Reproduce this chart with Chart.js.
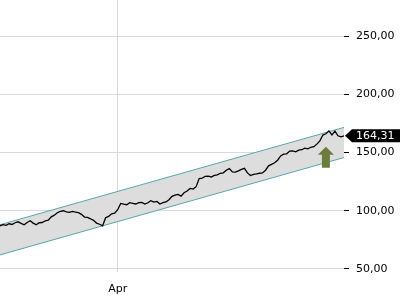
<!DOCTYPE html>
<html>
<head>
<meta charset="utf-8">
<script src="https://cdn.jsdelivr.net/npm/chart.js@4"></script>
<style>
  body { margin: 0; background: #fff; }
  #wrap { width: 400px; height: 300px; }
</style>
</head>
<body>
<div id="wrap"><canvas id="priceChart" width="400" height="300"></canvas></div>
<script>
// daily closes, one entry per trading day
const prices = [
  87.1, 88.0, 87.4, 88.8, 88.2, 89.7, 90.5, 89.2, 88.0, 89.9,
  91.4, 89.4, 88.0, 89.7, 89.9, 91.4, 92.0, 94.8, 96.2, 98.3,
  99.4, 100.0, 99.1, 98.6, 99.5, 98.9, 98.3, 96.9, 94.6, 94.3,
  93.1, 91.8, 89.4, 88.4, 87.1, 94.0, 95.2, 97.4, 97.9, 100.9,
  106.3, 105.6, 105.2, 106.9, 106.4, 105.8, 106.9, 107.2, 105.7, 106.9,
  108.6, 107.5, 108.0, 105.8, 106.9, 107.6, 109.5, 112.4, 113.5, 114.1,
  112.6, 115.5, 117.0, 119.2, 118.6, 120.7, 127.6, 128.1, 129.5, 129.8,
  129.0, 130.4, 130.8, 132.2, 132.6, 134.8, 136.2, 133.3, 133.1, 134.3,
  135.6, 136.4, 132.5, 130.2, 131.3, 131.6, 132.2, 132.5, 134.8, 138.6,
  139.9, 141.2, 143.4, 147.1, 148.6, 148.9, 151.2, 151.4, 150.6, 152.0,
  152.4, 153.7, 153.1, 154.5, 155.0, 157.2, 160.0, 165.0, 166.1, 168.6,
  165.2, 168.4, 164.4, 163.5, 164.31
];

// trend channel (start / end day)
const channelDays = [0, 114];
const channelUpper = [88.0, 171.6];
const channelLower = [62.1, 145.7];

// axis ticks
const xTickDays = [39];
const xTickLabels = ["Apr"];
const yTickValues = [50, 100, 150, 200, 250];

// buy signal
const signalDay = 108;
const signalLow = 137;
const signalHigh = 155;

const lastPrice = prices[prices.length - 1];

function fmt(v) {
  return v.toFixed(2).replace(".", ",");
}

const pricePoints = prices.map((p, i) => ({x: i, y: p}));
const upperPoints = channelDays.map((d, i) => ({x: d, y: channelUpper[i]}));
const lowerPoints = channelDays.map((d, i) => ({x: d, y: channelLower[i]}));

function noPadding(s) {
  s.paddingTop = 0;
  s.paddingBottom = 0;
  s.paddingLeft = 0;
  s.paddingRight = 0;
}

const overlays = {
  id: "overlays",
  afterDraw(chart) {
    const ctx = chart.ctx;
    const xs = chart.scales.x;
    const ys = chart.scales.y;
    const area = chart.chartArea;

    // signal arrow
    const ax = xs.getPixelForValue(signalDay);
    const top = ys.getPixelForValue(signalHigh);
    const bot = ys.getPixelForValue(signalLow);
    ctx.save();
    ctx.fillStyle = "#6b7c3c";
    ctx.beginPath();
    ctx.moveTo(ax, top);
    ctx.lineTo(ax + 8, top + 8);
    ctx.lineTo(ax + 4, top + 8);
    ctx.lineTo(ax + 4, bot);
    ctx.lineTo(ax - 4, bot);
    ctx.lineTo(ax - 4, top + 8);
    ctx.lineTo(ax - 8, top + 8);
    ctx.closePath();
    ctx.fill();

    // last price tag
    const py = ys.getPixelForValue(lastPrice);
    const x0 = area.right + 1;
    ctx.fillStyle = "#000";
    ctx.beginPath();
    ctx.moveTo(x0, py);
    ctx.lineTo(x0 + 7, py - 6.5);
    ctx.lineTo(chart.width, py - 6.5);
    ctx.lineTo(chart.width, py + 6.5);
    ctx.lineTo(x0 + 7, py + 6.5);
    ctx.closePath();
    ctx.fill();
    ctx.fillStyle = "#fff";
    ctx.font = "11px 'DejaVu Sans'";
    ctx.textBaseline = "middle";
    ctx.textAlign = "left";
    ctx.fillText(fmt(lastPrice), x0 + 11, py + 0.5);
    ctx.restore();
  }
};

const config = {
  type: "line",
  data: {
    datasets: [
      {
        data: pricePoints,
        borderColor: "#000",
        borderWidth: 1.3,
        pointRadius: 0,
        tension: 0,
        fill: false,
        order: 0
      },
      {
        data: upperPoints,
        borderColor: "#5aa5ae",
        borderWidth: 1,
        pointRadius: 0,
        fill: false,
        order: 1
      },
      {
        data: lowerPoints,
        borderColor: "#5aa5ae",
        borderWidth: 1,
        pointRadius: 0,
        fill: "-1",
        backgroundColor: "#dddddd",
        order: 2
      }
    ]
  },
  options: {
    responsive: false,
    animation: false,
    layout: {padding: 0},
    plugins: {
      legend: {display: false},
      tooltip: {enabled: false},
      filler: {drawTime: "beforeDatasetsDraw"}
    },
    scales: {
      x: {
        type: "linear",
        min: 0,
        max: 114,
        border: {display: false},
        grid: {color: "#d9d9d9", drawTicks: false},
        ticks: {
          color: "#000",
          font: {family: "'DejaVu Sans'", size: 11},
          padding: 11,
          callback: (v) => xTickLabels[xTickDays.indexOf(v)] || ""
        },
        afterBuildTicks: (s) => { s.ticks = xTickDays.map(v => ({value: v})); },
        afterFit: (s) => { s.height = 28; noPadding(s); }
      },
      y: {
        position: "right",
        min: 47.4,
        max: 281,
        border: {display: false},
        grid: {color: "#d9d9d9", tickColor: "#000", tickLength: 5},
        ticks: {
          color: "#000",
          font: {family: "'DejaVu Sans'", size: 11},
          padding: 7,
          callback: (v) => fmt(v)
        },
        afterBuildTicks: (s) => { s.ticks = yTickValues.map(v => ({value: v})); },
        afterFit: (s) => { s.width = 56; noPadding(s); }
      }
    }
  },
  plugins: [overlays]
};

new Chart(document.getElementById("priceChart"), config);
</script>
</body>
</html>
